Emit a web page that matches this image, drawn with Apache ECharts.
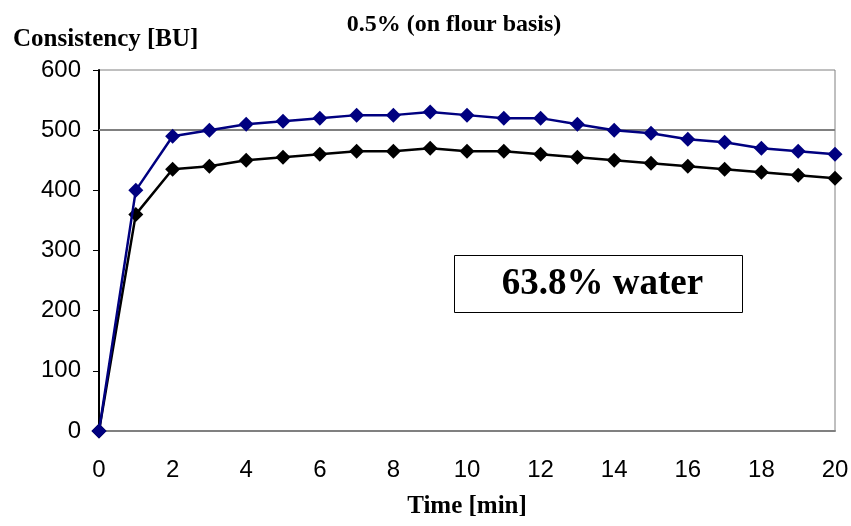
<!DOCTYPE html>
<html>
<head>
<meta charset="utf-8">
<script src="https://cdn.jsdelivr.net/npm/echarts@6/dist/echarts.min.js"></script>
<style>
  html, body { margin: 0; padding: 0; background: #fff; }
  #chart { width: 851px; height: 526px; }
</style>
</head>
<body>
<div id="chart"></div>
<script>
const timeMin = [0, 1, 2, 3, 4, 5, 6, 7, 8, 9, 10, 11, 12, 13, 14, 15, 16, 17, 18, 19, 20];
const blueSeries = [0, 400, 490, 500, 510, 515, 520, 525, 525, 530, 525, 520, 520, 510, 500, 495, 485, 480, 470, 465, 460];
const blackSeries = [0, 360, 435, 440, 450, 455, 460, 465, 465, 470, 465, 465, 460, 455, 450, 445, 440, 435, 430, 425, 420];

const serif = "'Liberation Serif', 'DejaVu Serif', serif";
const sans = "'Liberation Sans', Arial, sans-serif";

const chart = echarts.init(document.getElementById("chart"));

function pairs(ys) {
  return timeMin.map((t, i) => [t, ys[i]]);
}

const option = {
  animation: false,
  title: [
    {
      text: "0.5% (on flour basis)",
      left: 449,
      textAlign: "center",
      top: 8,
      textStyle: { fontFamily: serif, fontWeight: "bold", fontSize: 24, color: "#000" }
    },
    {
      text: "Consistency [BU]",
      left: 8,
      top: 22,
      textStyle: { fontFamily: serif, fontWeight: "bold", fontSize: 25, color: "#000" }
    }
  ],
  grid: {
    left: 99,
    right: 16,
    top: 70,
    bottom: 95,
    outerBoundsMode: "none",
    containLabel: false,
    show: true,
    borderColor: "#808080",
    borderWidth: 1,
    backgroundColor: "#fff"
  },
  xAxis: {
    type: "value",
    min: 0,
    max: 20,
    interval: 2,
    name: "Time [min]",
    nameLocation: "middle",
    nameGap: 63,
    nameTextStyle: { fontFamily: serif, fontWeight: "bold", fontSize: 25, color: "#000" },
    axisLine: { show: true, lineStyle: { color: "#808080", width: 2 } },
    axisTick: { show: false },
    splitLine: { show: false },
    axisLabel: { fontFamily: sans, fontSize: 24, color: "#000", margin: 27 }
  },
  yAxis: {
    type: "value",
    min: 0,
    max: 600,
    interval: 100,
    axisLine: { show: true, lineStyle: { color: "#000", width: 2 } },
    axisTick: { show: true, length: 6, lineStyle: { color: "#000", width: 1 } },
    splitLine: { show: false },
    axisLabel: { fontFamily: sans, fontSize: 24, color: "#000", margin: 18 }
  },
  graphic: [
    {
      type: "group",
      left: 454,
      top: 255,
      children: [
        {
          type: "rect",
          shape: { x: 0, y: 0, width: 288, height: 57 },
          style: { fill: "#fff", stroke: "#000", lineWidth: 1 }
        },
        {
          type: "text",
          x: 148,
          y: 29,
          style: {
            text: "63.8% water",
            fontFamily: serif,
            fontWeight: "bold",
            fontSize: 37,
            fill: "#000",
            align: "center",
            verticalAlign: "middle"
          }
        }
      ]
    }
  ],
  series: [
    {
      name: "black",
      type: "line",
      data: pairs(blackSeries),
      symbol: "diamond",
      symbolSize: 15,
      lineStyle: { color: "#000", width: 2.5 },
      itemStyle: { color: "#000" },
      z: 3
    },
    {
      name: "blue",
      type: "line",
      data: pairs(blueSeries),
      symbol: "diamond",
      symbolSize: 15,
      lineStyle: { color: "#000080", width: 2.5 },
      itemStyle: { color: "#000080" },
      z: 4,
      markLine: {
        silent: true,
        symbol: "none",
        label: { show: false },
        lineStyle: { color: "#808080", width: 2, type: "solid" },
        data: [{ yAxis: 500 }],
        z: 1
      }
    }
  ]
};

chart.setOption(option);
</script>
</body>
</html>
